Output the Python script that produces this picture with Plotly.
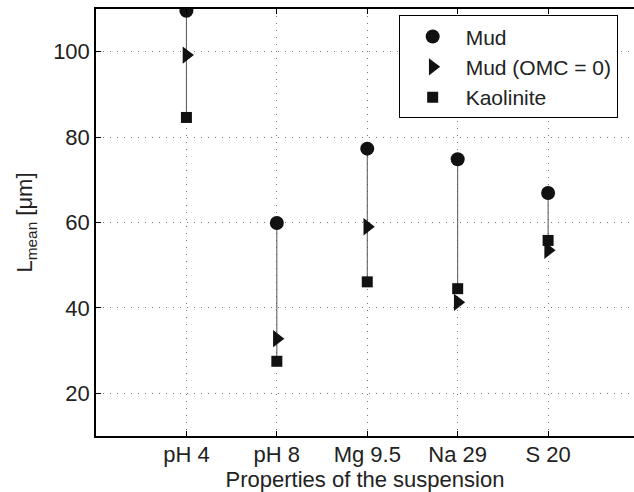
import plotly.graph_objects as go

categories = ["pH 4", "pH 8", "Mg 9.5", "Na 29", "S 20"]
mud = [109.6, 59.9, 77.3, 74.8, 66.9]
mud_omc0 = [99.2, 32.8, 59.0, 41.3, 53.5]
kaolinite = [84.6, 27.5, 46.1, 44.5, 55.8]

FONT = "Liberation Sans, Arial, sans-serif"
INK = "#111111"
FS = 22

fig = go.Figure()

# connecting stems Mud -> Kaolinite
sx, sy = [], []
for c, a, b in zip(categories, mud, kaolinite):
    sx += [c, c, None]
    sy += [a, b, None]
fig.add_trace(go.Scatter(x=sx, y=sy, mode="lines", line=dict(color="#555555", width=1),
                         showlegend=False, hoverinfo="skip"))

fig.add_trace(go.Scatter(x=categories, y=mud, mode="markers", name="Mud",
                         marker=dict(symbol="circle", size=14, color=INK)))
fig.add_trace(go.Scatter(x=categories, y=mud_omc0, mode="markers", name="Mud (OMC = 0)",
                         marker=dict(symbol="triangle-right", size=15, color=INK)))
fig.add_trace(go.Scatter(x=categories, y=kaolinite, mode="markers", name="Kaolinite",
                         marker=dict(symbol="square", size=11, color=INK)))

fig.update_layout(
    width=634, height=492,
    margin=dict(l=96, r=0, t=9, b=56),
    paper_bgcolor="white", plot_bgcolor="white",
    font=dict(family=FONT, size=FS, color="#222222"),
    legend=dict(x=0.5626, y=0.985, xanchor="left", yanchor="top",
                bordercolor="black", borderwidth=1, bgcolor="white",
                font=dict(size=21), tracegroupgap=0, itemsizing="trace", itemwidth=56),
    xaxis=dict(type="category", range=[-1, 4.95], categoryorder="array", categoryarray=categories,
               showline=True, linecolor="black", linewidth=1.5, mirror="ticks",
               ticks="inside", ticklen=5, tickcolor="black",
               showgrid=True, gridcolor="#777777", griddash="1px,6px", gridwidth=1,
               zeroline=False, tickfont=dict(size=FS), ticklabelstandoff=-2,
               title=dict(text="Properties of the suspension", standoff=0, font=dict(size=FS))),
    yaxis=dict(range=[10, 110], tick0=0, dtick=20,
               showline=True, linecolor="black", linewidth=1.5,
               ticks="inside", ticklen=5, tickcolor="black",
               showgrid=True, gridcolor="#777777", griddash="1px,6px", gridwidth=1,
               zeroline=False, tickfont=dict(size=FS),
               title=dict(text="L<sub>mean</sub> [μm]", standoff=14, font=dict(size=FS))),
)

fig.write_html("out.html")
